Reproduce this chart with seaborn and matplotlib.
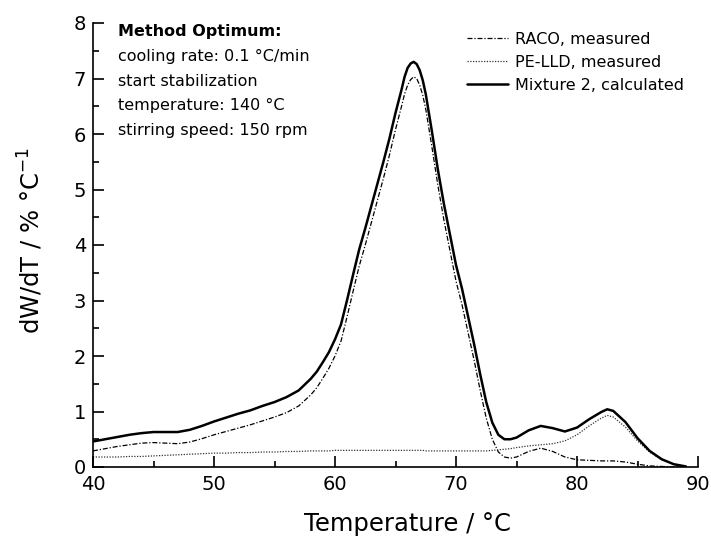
import numpy as np
import pandas as pd
import matplotlib
matplotlib.use("Agg")
import matplotlib.pyplot as plt
from matplotlib.ticker import MultipleLocator
import seaborn as sns

# Temperature grid (°C): 1 °C steps on the flanks, finer steps around the peaks
temperature = (
    [40, 41, 42, 43, 44, 45, 46, 47, 48, 49, 50, 51, 52, 53, 54, 55, 56, 57]
    + [58, 58.5, 59, 59.5, 60, 60.5, 61, 61.5, 62, 62.5, 63, 63.5, 64, 64.5,
       65, 65.5, 65.75, 66, 66.25, 66.5, 66.75, 67, 67.25, 67.5, 68, 68.5, 69,
       69.5, 70, 70.5, 71, 71.5, 72, 72.5, 73, 73.5, 74, 74.5, 75]
    + [76, 77, 78, 79, 80, 81, 82, 82.5, 83, 84, 85, 86, 87, 88, 89]
)

# dW/dT (% / °C) of the measured RACO fraction
raco = (
    [0.29, 0.33, 0.37, 0.40, 0.43, 0.44, 0.43, 0.42, 0.45, 0.51, 0.58, 0.64,
     0.70, 0.76, 0.83, 0.90, 0.98, 1.10]
    + [1.30, 1.43, 1.60, 1.78, 2.00, 2.27, 2.71, 3.17, 3.62, 4.00, 4.40, 4.80,
       5.20, 5.62, 6.08, 6.50, 6.72, 6.88, 6.98, 7.03, 7.00, 6.88, 6.70, 6.45,
       5.78, 5.08, 4.45, 3.90, 3.35, 2.92, 2.42, 1.92, 1.38, 0.88, 0.50, 0.27,
       0.18, 0.16, 0.18]
    + [0.28, 0.34, 0.28, 0.18, 0.13, 0.12, 0.11, 0.11, 0.11, 0.09, 0.05, 0.02,
       0.01, 0.0, 0.0]
)

# dW/dT (% / °C) of the measured PE-LLD fraction
pe_lld = (
    [0.18, 0.18, 0.18, 0.19, 0.19, 0.20, 0.21, 0.22, 0.23, 0.24, 0.25, 0.25,
     0.26, 0.26, 0.27, 0.27, 0.28, 0.28]
    + [0.29, 0.29, 0.29, 0.29, 0.30, 0.30, 0.30, 0.30, 0.30, 0.30, 0.30, 0.30,
       0.30, 0.30, 0.30, 0.30, 0.30, 0.30, 0.30, 0.30, 0.30, 0.30, 0.30, 0.29,
       0.29, 0.29, 0.29, 0.29, 0.29, 0.29, 0.29, 0.29, 0.29, 0.29, 0.30, 0.31,
       0.32, 0.33, 0.35]
    + [0.38, 0.40, 0.42, 0.47, 0.58, 0.74, 0.88, 0.93, 0.90, 0.72, 0.47, 0.27,
       0.13, 0.05, 0.01]
)

# dW/dT (% / °C) calculated for mixture 2
mixture = (
    [0.46, 0.50, 0.54, 0.58, 0.61, 0.63, 0.63, 0.63, 0.67, 0.74, 0.82, 0.89,
     0.96, 1.02, 1.10, 1.17, 1.26, 1.38]
    + [1.59, 1.72, 1.89, 2.07, 2.30, 2.57, 3.01, 3.47, 3.92, 4.30, 4.70, 5.10,
       5.50, 5.92, 6.38, 6.80, 7.03, 7.19, 7.27, 7.30, 7.26, 7.15, 6.97, 6.72,
       6.06, 5.36, 4.74, 4.19, 3.64, 3.21, 2.71, 2.21, 1.67, 1.17, 0.80, 0.58,
       0.50, 0.50, 0.53]
    + [0.66, 0.74, 0.70, 0.64, 0.71, 0.86, 0.99, 1.04, 1.01, 0.81, 0.52, 0.29,
       0.14, 0.05, 0.01]
)

labels = ["RACO, measured", "PE-LLD, measured", "Mixture 2, calculated"]

method_lines = [
    "cooling rate: 0.1 °C/min",
    "start stabilization",
    "temperature: 140 °C",
    "stirring speed: 150 rpm",
]

sns.set_style("ticks")
plt.rcParams["font.family"] = ["DejaVu Sans"]
plt.rcParams["axes.linewidth"] = 1.2
plt.rcParams["text.color"] = "black"
plt.rcParams["axes.labelcolor"] = "black"
plt.rcParams["axes.edgecolor"] = "black"
plt.rcParams["xtick.color"] = "black"
plt.rcParams["ytick.color"] = "black"

df = pd.DataFrame({"T": temperature, "raco": raco, "pe": pe_lld, "mix": mixture})

fig = plt.figure(figsize=(7.11, 5.41), dpi=100)
ax = fig.add_axes([93 / 711, 74 / 541, 605 / 711, 444 / 541])

sns.lineplot(data=df, x="T", y="raco", ax=ax, color="black", lw=0.9,
             linestyle=(0, (4, 1.5, 1, 1.5)), label=labels[0])
sns.lineplot(data=df, x="T", y="pe", ax=ax, color="#333333", lw=0.9,
             linestyle=(0, (1, 1.2)), label=labels[1])
sns.lineplot(data=df, x="T", y="mix", ax=ax, color="black", lw=1.8,
             label=labels[2])

ax.set_xlim(40, 90)
ax.set_ylim(0, 8)
ax.xaxis.set_major_locator(MultipleLocator(10))
ax.xaxis.set_minor_locator(MultipleLocator(5))
ax.yaxis.set_major_locator(MultipleLocator(1))
ax.yaxis.set_minor_locator(MultipleLocator(0.5))
ax.tick_params(which="major", direction="in", length=8, width=1.2,
               labelsize=14, colors="black")
ax.tick_params(which="minor", direction="in", length=4.5, width=1.2,
               colors="black")
ax.tick_params(axis="x", pad=6)
ax.tick_params(axis="y", pad=5)
sns.despine(ax=ax)

ax.set_xlabel("Temperature / °C", fontsize=17.5, color="black")
ax.set_ylabel("dW/dT / % °C$^{-1}$", fontsize=17.5, color="black")
ax.xaxis.set_label_coords(0.52, -0.128)
ax.xaxis.label.set_va("center")
ax.yaxis.set_label_coords(-0.1025, 0.51)
ax.yaxis.label.set_va("center")

leg = ax.legend(loc="upper left", bbox_to_anchor=(467 / 711, 1 - 32 / 541),
                bbox_transform=fig.transFigure, frameon=False, fontsize=11.5,
                handlelength=2.55, handletextpad=0.45, labelspacing=0.5,
                borderpad=0, borderaxespad=0)
for txt in leg.get_texts():
    txt.set_color("black")

fig.text(118 / 711, 1 - 31.5 / 541, "Method Optimum:", fontsize=11.5,
         fontweight="bold", va="center", ha="left", color="black")
for i, line in enumerate(method_lines):
    fig.text(118 / 711, 1 - (56.5 + 24.7 * i) / 541, line, fontsize=11.5,
             va="center", ha="left", color="black")

fig.savefig("out.png", dpi=100)
